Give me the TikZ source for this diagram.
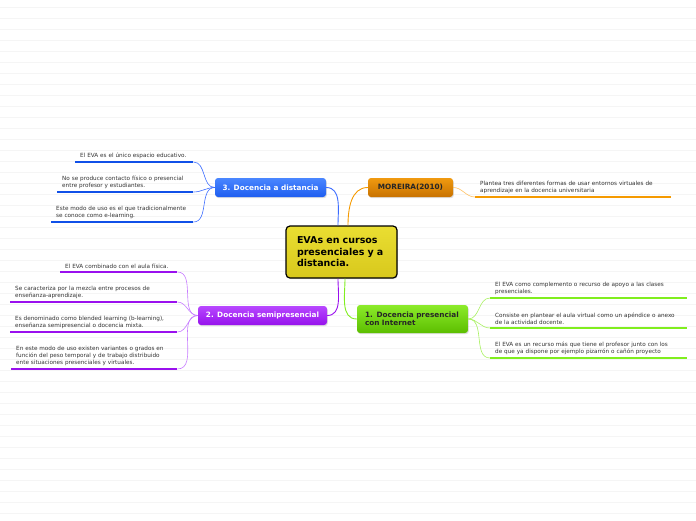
\documentclass[tikz,border=0pt]{standalone}
\usepackage{fontspec}
\setmainfont{DejaVu Sans}
\usetikzlibrary{shadows}
\definecolor{blueT}{HTML}{4A86FF}
\definecolor{blueB}{HTML}{1E5EF0}
\definecolor{blueU}{HTML}{1050E8}
\definecolor{blueL}{HTML}{3A6BFF}
\definecolor{oraT}{HTML}{F09A10}
\definecolor{oraB}{HTML}{C87200}
\definecolor{oraU}{HTML}{F59A00}
\definecolor{oraL}{HTML}{FFC060}
\definecolor{purT}{HTML}{B848FF}
\definecolor{purB}{HTML}{9612EC}
\definecolor{purU}{HTML}{9A10EE}
\definecolor{purL}{HTML}{C77DFF}
\definecolor{grnT}{HTML}{8CEB2A}
\definecolor{grnB}{HTML}{5CBE00}
\definecolor{grnU}{HTML}{80EE1E}
\definecolor{grnL}{HTML}{A8F060}
\definecolor{yelT}{HTML}{EADE32}
\definecolor{yelB}{HTML}{D8C81C}

\begin{document}
\begin{tikzpicture}[x=1pt,y=-1pt,
    every node/.style={font=\fontsize{5.7}{7}\selectfont, text=black!80},
    topic/.style={rounded corners=3pt, minimum height=19pt, inner sep=0pt,
        font=\bfseries\fontsize{7.3}{8.5}\selectfont,
        drop shadow={shadow xshift=0.8pt, shadow yshift=-1.2pt, opacity=0.25}},
    leaf/.style={anchor=south west, align=left, inner xsep=5pt, inner ysep=3pt}]
    \useasboundingbox (0,0) rectangle (696,520);
    \foreach \y in {7,18,...,513} {
        \draw[black!4, line width=0.5pt] (0,\y) -- (696,\y);
    }

    \node[draw=black, line width=1.2pt, top color=yelT, bottom color=yelB, rounded corners=4pt,
        minimum width=111pt, minimum height=52pt, text width=89pt, inner xsep=11pt, align=left,
        font=\bfseries\fontsize{9.5}{11.5}\selectfont, text=black,
        drop shadow={shadow xshift=0.8pt, shadow yshift=-1.2pt, opacity=0.25}]
        (cen) at (341.5,252) {EVAs en cursos\\presenciales y a\\distancia.};

    \node[topic, top color=blueT, bottom color=blueB, text=white, minimum width=111pt] (dist) at (270.5,187.5) {3. Docencia a distancia};
    \node[topic, top color=oraT, bottom color=oraB, text=black!85, minimum width=85pt] (more) at (410.5,187.5) {MOREIRA(2010)};
    \node[topic, top color=purT, bottom color=purB, text=white, minimum width=129pt] (semi) at (262.5,315.5) {2. Docencia semipresencial};
    \node[topic, top color=grnT, bottom color=grnB, text=black!85, minimum height=28pt, inner xsep=8pt,
        text width=95pt, align=left] (pres) at (412.5,319) {1. Docencia presencial\\con Internet};

    \draw[blueL, line width=0.9pt] (dist.east) to[out=0,in=90] ([xshift=-3.5pt]cen.north);
    \draw[oraU, line width=0.9pt] (more.west) to[out=180,in=90] ([xshift=6.5pt]cen.north);
    \draw[purU, line width=0.9pt] (semi.east) to[out=0,in=-90] ([xshift=-3.5pt]cen.south);
    \draw[grnU, line width=0.9pt] (pres.west) to[out=180,in=-90] ([xshift=3.5pt]cen.south);

    \node[leaf, text width=108pt] (d1) at (75,162) {El EVA es el único espacio educativo.};
    \node[leaf, text width=126pt] (d2) at (57,192) {No se produce contacto físico o presencial\\entre profesor y estudiantes.};
    \node[leaf, text width=132pt] (d3) at (51,222) {Este modo de uso es el que tradicionalmente\\se conoce como e-learning.};
    \foreach \n in {d1,d2,d3} {
        \draw[blueU, line width=2.5pt] (\n.south west) -- (\n.south east);
        \draw[blueL, line width=0.6pt] (dist.west) to[out=180,in=0] (\n.south east);
    }

    \node[leaf, text width=107pt] (p1) at (60,272) {El EVA combinado con el aula física.};
    \node[leaf, text width=157pt] (p2) at (10,302) {Se caracteriza por la mezcla entre procesos de\\enseñanza-aprendizaje.};
    \node[leaf, text width=157pt] (p3) at (10,332) {Es denominado como blended learning (b-learning),\\enseñanza semipresencial o docencia mixta.};
    \node[leaf, text width=156pt] (p4) at (11,369) {En este modo de uso existen variantes o grados en\\función del peso temporal y de trabajo distribuido\\ente situaciones presenciales y virtuales.};
    \foreach \n in {p1,p2,p3,p4} {
        \draw[purU, line width=2.5pt] (\n.south west) -- (\n.south east);
        \draw[purL, line width=0.6pt] (semi.west) to[out=180,in=0] (\n.south east);
    }

    \node[leaf, text width=186pt] (o1) at (475,197) {Plantea tres diferentes formas de usar entornos virtuales de\\aprendizaje en la docencia universitaria};
    \draw[oraU, line width=2.5pt] (o1.south west) -- (o1.south east);
    \draw[oraL, line width=0.6pt] (more.east) to[out=0,in=180] (o1.south west);

    \node[leaf, text width=187pt] (g1) at (490,298) {El EVA como complemento o recurso de apoyo a las clases\\presenciales.};
    \node[leaf, text width=187pt] (g2) at (490,328) {Consiste en plantear el aula virtual como un apéndice o anexo\\de la actividad docente.};
    \node[leaf, text width=187pt] (g3) at (490,358) {El EVA es un recurso más que tiene el profesor junto con los\\de que ya dispone por ejemplo pizarrón o cañón proyecto};
    \foreach \n in {g1,g2,g3} {
        \draw[grnU, line width=2.5pt] (\n.south west) -- (\n.south east);
        \draw[grnL, line width=0.6pt] (pres.east) to[out=0,in=180] (\n.south west);
    }
\end{tikzpicture}
\end{document}
